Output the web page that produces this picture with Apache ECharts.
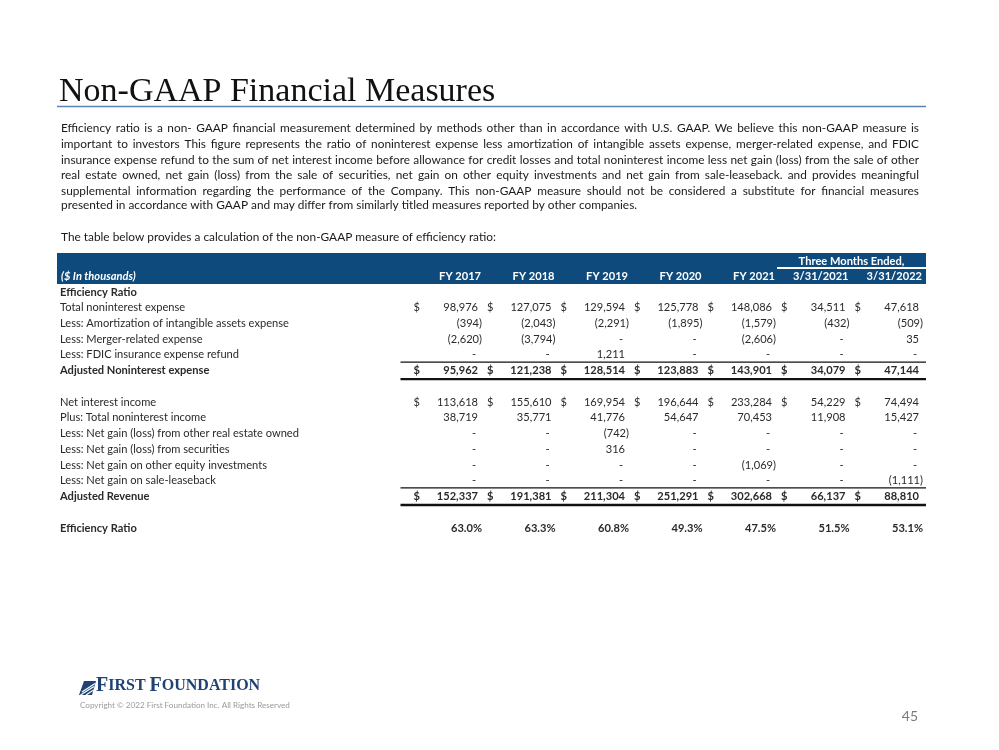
<!DOCTYPE html>
<html><head><meta charset="utf-8">
<script src="https://cdn.jsdelivr.net/npm/echarts@6/dist/echarts.min.js"></script>
<style>html,body{margin:0;padding:0;background:#fff}#c{width:999px;height:750px}</style>
</head><body><div id="c"></div>
<script>
// ---------- DATA ----------
const rowLabels = [
  'Efficiency Ratio',
  'Total noninterest expense',
  'Less: Amortization of intangible assets expense',
  'Less: Merger-related expense',
  'Less: FDIC insurance expense refund',
  'Adjusted Noninterest expense',
  '',
  'Net interest income',
  'Plus: Total noninterest income',
  'Less: Net gain (loss) from other real estate owned',
  'Less: Net gain (loss) from securities',
  'Less: Net gain on other equity investments',
  'Less: Net gain on sale-leaseback',
  'Adjusted Revenue',
  '',
  'Efficiency Ratio'
];
const colHeaders = ['FY 2017', 'FY 2018', 'FY 2019', 'FY 2020', 'FY 2021', '3/31/2021', '3/31/2022'];
const groupHeader = 'Three Months Ended,';
const unitLabel = '($ In thousands)';
// 0 = shown as "-", null = empty cell
const fy2017  = [null,  98976,  -394, -2620,    0,  95962, null, 113618, 38719,    0,   0,     0,     0, 152337, null, 63.0];
const fy2018  = [null, 127075, -2043, -3794,    0, 121238, null, 155610, 35771,    0,   0,     0,     0, 191381, null, 63.3];
const fy2019  = [null, 129594, -2291,     0, 1211, 128514, null, 169954, 41776, -742, 316,     0,     0, 211304, null, 60.8];
const fy2020  = [null, 125778, -1895,     0,    0, 123883, null, 196644, 54647,    0,   0,     0,     0, 251291, null, 49.3];
const fy2021  = [null, 148086, -1579, -2606,    0, 143901, null, 233284, 70453,    0,   0, -1069,     0, 302668, null, 47.5];
const q1_2021 = [null,  34511,  -432,     0,    0,  34079, null,  54229, 11908,    0,   0,     0,     0,  66137, null, 51.5];
const q1_2022 = [null,  47618,  -509,    35,    0,  47144, null,  74494, 15427,    0,   0,     0, -1111,  88810, null, 53.1];

const dollarRows = [1, 5, 7, 13];
const boldLabelRows = [0, 5, 13, 15];
const boldValueRows = [5, 13, 15];
const percentRows = [15];
const ruledRows = [5, 13];

const titleText = 'Non-GAAP Financial Measures';
const paraLines = [
  'Efficiency ratio is a non- GAAP financial measurement determined by methods other than in accordance with U.S. GAAP. We believe this non-GAAP measure is',
  'important to investors This figure represents the ratio of noninterest expense less amortization of intangible assets expense, merger-related expense, and FDIC',
  'insurance expense refund to the sum of net interest income before allowance for credit losses and total noninterest income less net gain (loss) from the sale of other',
  'real estate owned, net gain (loss) from the sale of securities, net gain on other equity investments and net gain from sale-leaseback. and provides meaningful',
  'supplemental information regarding the performance of the Company. This non-GAAP measure should not be considered a substitute for financial measures',
  'presented in accordance with GAAP and may differ from similarly titled measures reported by other companies.'
];
const introText = 'The table below provides a calculation of the non-GAAP measure of efficiency ratio:';
const copyrightText = 'Copyright \u00A9 2022 First Foundation Inc. All Rights Reserved';
const pageNumber = '45';

// ---------- STYLE / LAYOUT ----------
const NAVY = '#0f4a7c';
const TXT = '#2a2a2a';
const SANS = 'Lato';
const TFS = 11.1;

const ctx = document.createElement('canvas').getContext('2d');
function measure(t, font) { ctx.font = font; return ctx.measureText(t).width; }

const columns = [fy2017, fy2018, fy2019, fy2020, fy2021, q1_2021, q1_2022];
const rowIds = rowLabels.map((_, i) => String(i));
const cellData = [];
columns.forEach((col, c) => col.forEach((v, r) => { if (v !== null) cellData.push([c, r, v]); }));
const labelData = rowLabels.map((t, r) => [0, r]);
const headerData = colHeaders.map((h, c) => [c, 0]);
const ruleData = ruledRows.map(r => [0, r]);

function fmt(v, r) {
  if (percentRows.includes(r)) return v.toFixed(1) + '%';
  if (v === 0) return '-';
  const s = Math.abs(v).toLocaleString('en-US');
  return v < 0 ? '(' + s + ')' : s;
}

// paragraph, justified
const graphics = [];
const paraX = 61, paraW = 858;
const paraY = [128.5, 144, 160, 175.5, 191, 205];
let pfs = 11.85;
{
  let maxW = 0;
  paraLines.slice(0, 5).forEach(l => { maxW = Math.max(maxW, measure(l, pfs + 'px ' + SANS)); });
  if (maxW > paraW - 6) pfs = pfs * (paraW - 6) / maxW;
}
const pFont = pfs.toFixed(2) + 'px ' + SANS;
paraLines.forEach((line, i) => {
  if (i === paraLines.length - 1) {
    graphics.push({ type: 'text', silent: true, style: { text: line, x: paraX, y: paraY[i], font: pFont, fill: '#1a1a1a', textVerticalAlign: 'middle', verticalAlign: 'middle' } });
    return;
  }
  const words = line.split(' ');
  const ws = words.map(w => measure(w, pFont));
  const tot = ws.reduce((a, b) => a + b, 0);
  const gap = (paraW - tot) / (words.length - 1);
  let x = paraX;
  words.forEach((w, k) => {
    graphics.push({ type: 'text', silent: true, style: { text: w, x: x, y: paraY[i], font: pFont, fill: '#1a1a1a', textVerticalAlign: 'middle', verticalAlign: 'middle' } });
    x += ws[k] + gap;
  });
});
graphics.push({ type: 'text', silent: true, style: { text: introText, x: paraX, y: 237, font: pFont, fill: '#1a1a1a', textVerticalAlign: 'middle', verticalAlign: 'middle' } });

// title
let tfs = 33;
{
  const w = measure(titleText, tfs + 'px "Liberation Serif"');
  tfs = Math.min(34, tfs * 436 / w);
}
graphics.push({ type: 'text', silent: true, style: { text: titleText, x: 59, y: 109, font: tfs.toFixed(1) + 'px "Liberation Serif"', fill: '#111', textVerticalAlign: 'bottom', verticalAlign: 'bottom' } });
graphics.push({ type: 'line', silent: true, shape: { x1: 57, y1: 106.5, x2: 926, y2: 106.5 }, style: { stroke: '#5a84b0', lineWidth: 1.5 } });

// header bar
graphics.push({ type: 'rect', silent: true, z: -1, shape: { x: 57, y: 253, width: 869, height: 31 }, style: { fill: NAVY } });

// logo
graphics.push({ type: 'polygon', silent: true, shape: { points: [[84, 681], [96, 681], [92, 695], [79, 695]] }, style: { fill: '#1f4272' } });
[[82, 692, 95, 683.5], [80.5, 695, 94, 686.5], [86, 695, 93.5, 690]].forEach(p => {
  graphics.push({ type: 'line', silent: true, shape: { x1: p[0], y1: p[1], x2: p[2], y2: p[3] }, style: { stroke: '#fff', lineWidth: 1.2 } });
});
graphics.push({ type: 'text', silent: true, style: {
  text: '{b|F}{s|IRST }{b|F}{s|OUNDATION}', x: 96, y: 696, textVerticalAlign: 'bottom', verticalAlign: 'bottom',
  rich: {
    b: { fontSize: 20, fontFamily: 'Liberation Serif', fontWeight: 'bold', fill: '#1f4272', color: '#1f4272' },
    s: { fontSize: 16, fontFamily: 'Liberation Serif', fontWeight: 'bold', fill: '#1f4272', color: '#1f4272' }
  }
} });
graphics.push({ type: 'text', silent: true, style: { text: copyrightText, x: 80, y: 705, font: '8.1px ' + SANS, fill: '#9a9a9a', textVerticalAlign: 'middle', verticalAlign: 'middle' } });
graphics.push({ type: 'text', silent: true, style: { text: pageNumber, x: 918, y: 716, font: '14px ' + SANS, fill: '#7a7a7a', textAlign: 'right', align: 'right', textVerticalAlign: 'middle', verticalAlign: 'middle' } });

function txt(text, x, y, bold, align, fill, italic) {
  const f = (italic ? 'italic ' : '') + (bold ? 'bold ' : '') + TFS + 'px ' + SANS;
  return { type: 'text', style: { text, x, y, font: f, fill: fill || TXT, textAlign: align, align: align, textVerticalAlign: 'middle', verticalAlign: 'middle' } };
}

const option = {
  animation: false,
  backgroundColor: '#fff',
  graphic: { elements: graphics },
  grid: [
    { left: 60, top: 284.1, width: 340, height: 251.7 },
    { left: 410.5, top: 284.1, width: 514.5, height: 251.7 }
  ],
  xAxis: [
    { type: 'category', gridIndex: 0, data: ['label'], show: false },
    { type: 'category', gridIndex: 1, data: colHeaders, show: false }
  ],
  yAxis: [
    { type: 'category', gridIndex: 0, data: rowIds, inverse: true, show: false },
    { type: 'category', gridIndex: 1, data: rowIds, inverse: true, show: false }
  ],
  series: [
    {
      type: 'custom', xAxisIndex: 0, yAxisIndex: 0, z: 10, silent: true, data: labelData,
      renderItem(params, api) {
        const r = api.value(1);
        const pt = api.coord([0, r]);
        return txt(rowLabels[r], params.coordSys.x, pt[1], boldLabelRows.includes(r), 'left');
      }
    },
    {
      type: 'custom', xAxisIndex: 0, yAxisIndex: 0, z: 10, silent: true, data: [[0, 0]],
      renderItem(params, api) {
        return txt(unitLabel, params.coordSys.x + 1, params.coordSys.y - 7.5, true, 'left', '#fff', true);
      }
    },
    {
      type: 'custom', xAxisIndex: 1, yAxisIndex: 1, z: 10, silent: true, data: headerData,
      renderItem(params, api) {
        const c = api.value(0);
        const pt = api.coord([c, 0]);
        const w = api.size([1, 1])[0];
        const cs = params.coordSys;
        const kids = [txt(colHeaders[c], pt[0] + w / 2 - 3, cs.y - 7.5, true, 'right', '#fff')];
        if (c === 5) {
          const left = pt[0] - w / 2;
          const right = cs.x + cs.width;
          kids.push(txt(groupHeader, (left + right) / 2, cs.y - 22.5, true, 'center', '#fff'));
          kids.push({ type: 'line', shape: { x1: left - 1, y1: cs.y - 16, x2: right + 1, y2: cs.y - 16 }, style: { stroke: '#fff', lineWidth: 2 } });
        }
        return { type: 'group', children: kids };
      }
    },
    {
      type: 'custom', xAxisIndex: 1, yAxisIndex: 1, z: 10, silent: true, data: cellData,
      renderItem(params, api) {
        const c = api.value(0), r = api.value(1), v = api.value(2);
        const pt = api.coord([c, r]);
        const w = api.size([1, 1])[0];
        const cellL = pt[0] - w / 2, cellR = pt[0] + w / 2;
        const bold = boldValueRows.includes(r);
        const s = fmt(v, r);
        let x;
        if (percentRows.includes(r)) x = cellR - 2;
        else if (v === 0) x = cellR - 8;
        else if (v < 0) x = cellR - 2;
        else x = cellR - 6;
        const kids = [txt(s, x, pt[1], bold, 'right')];
        if (dollarRows.includes(r)) kids.push(txt('$', cellL + 3, pt[1], bold, 'left'));
        return { type: 'group', children: kids };
      }
    },
    {
      type: 'custom', xAxisIndex: 1, yAxisIndex: 1, z: 10, silent: true, data: ruleData,
      renderItem(params, api) {
        const r = api.value(1);
        const pt = api.coord([0, r]);
        const cs = params.coordSys;
        const x1 = cs.x - 10, x2 = cs.x + cs.width + 1;
        return { type: 'group', children: [
          { type: 'line', shape: { x1, y1: pt[1] - 8.5, x2, y2: pt[1] - 8.5 }, style: { stroke: '#111', lineWidth: 1.3 } },
          { type: 'line', shape: { x1, y1: pt[1] + 8.5, x2, y2: pt[1] + 8.5 }, style: { stroke: '#111', lineWidth: 2.4 } }
        ] };
      }
    }
  ]
};
const chart = echarts.init(document.getElementById('c'));
chart.setOption(option);
</script>
</body></html>
